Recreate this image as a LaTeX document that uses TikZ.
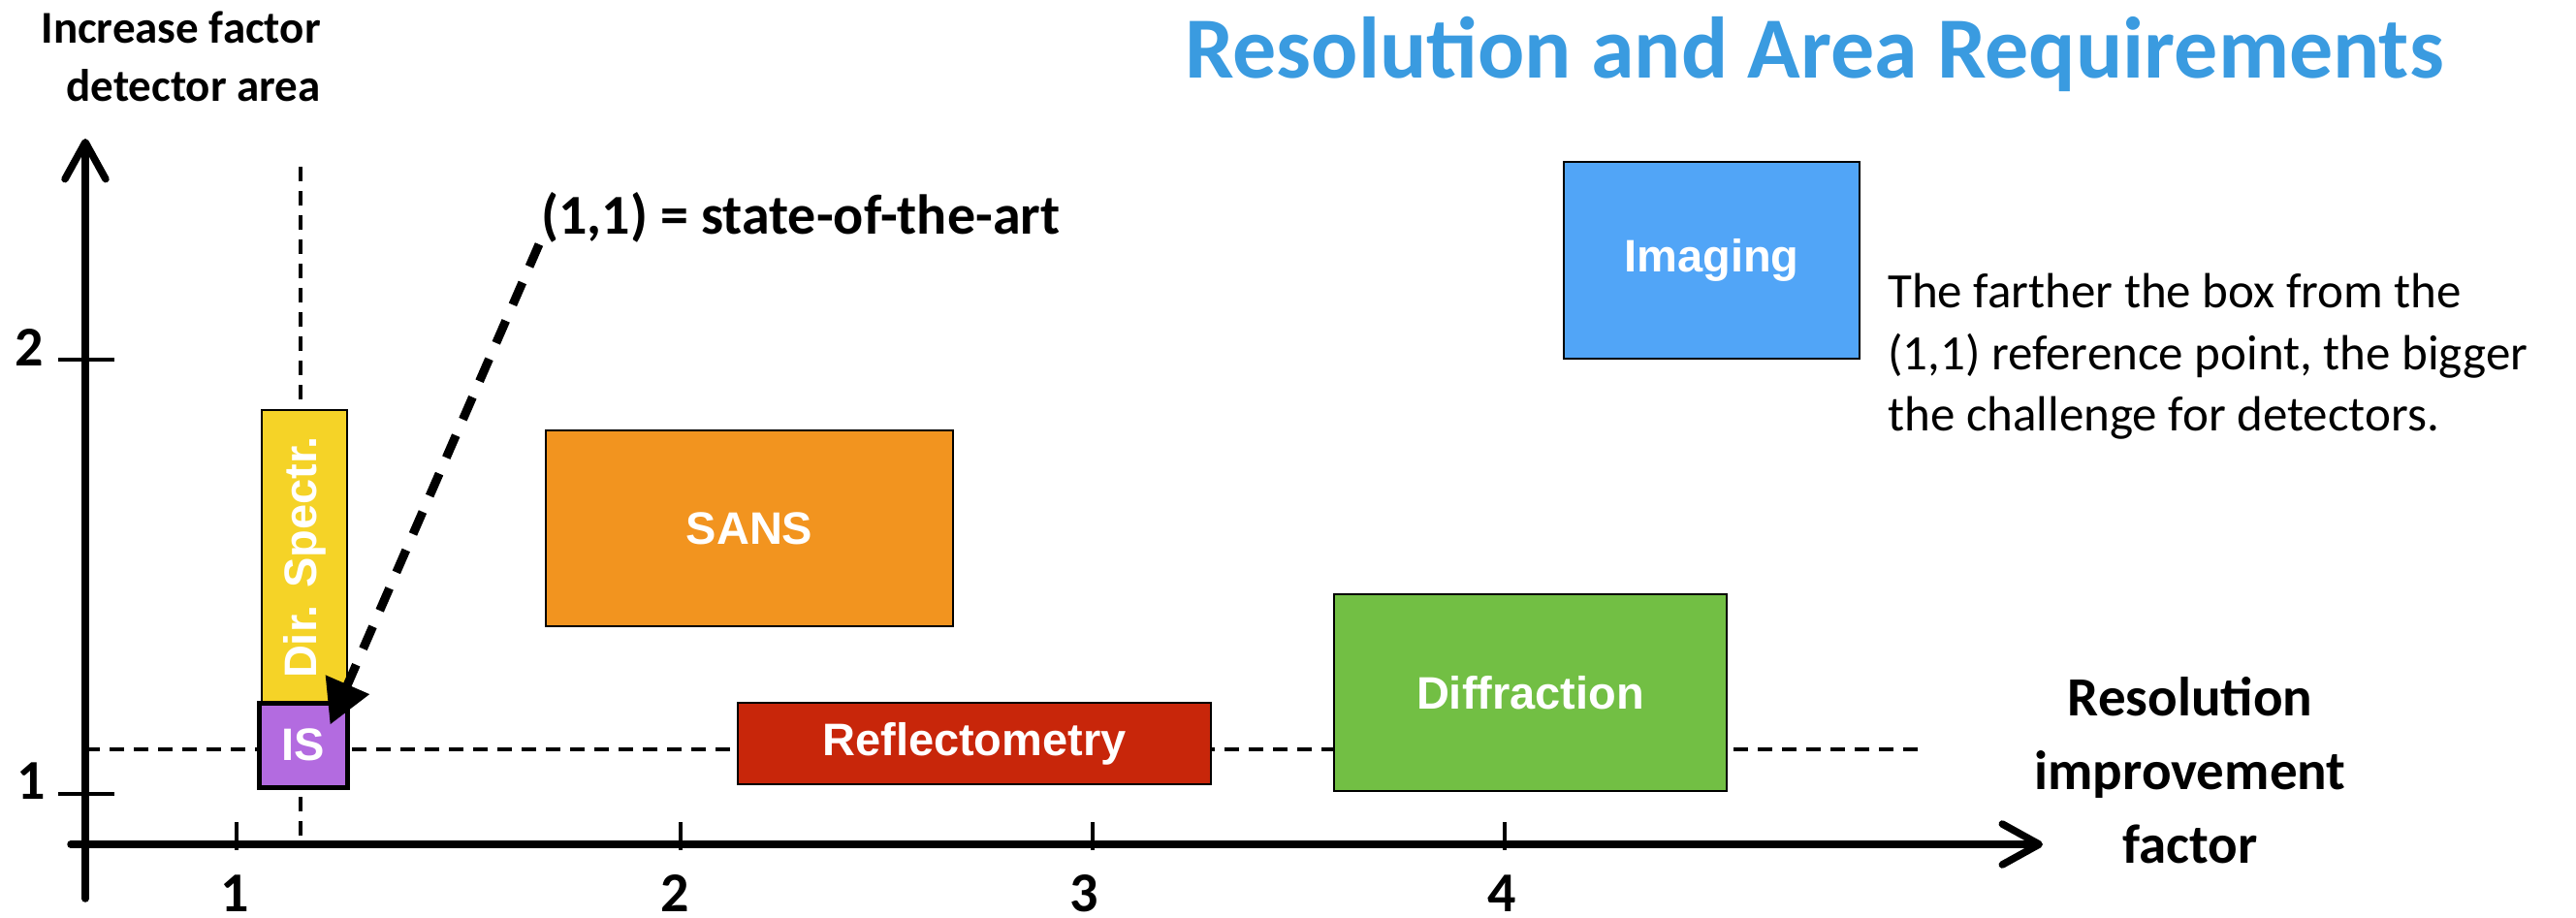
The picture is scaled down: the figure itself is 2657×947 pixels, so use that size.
\documentclass[tikz,border=0pt]{standalone}
\usepackage{fontspec}
\setmainfont{Carlito}
\newfontfamily\boxfont{Liberation Sans}
\usetikzlibrary{arrows.meta,calc}
\definecolor{ctitle}{HTML}{3A9BE0}
\definecolor{cyellow}{HTML}{F5D327}
\definecolor{cpurple}{HTML}{B36BE0}
\definecolor{corange}{HTML}{F2941F}
\definecolor{cred}{HTML}{C8260A}
\definecolor{cgreen}{HTML}{72BF44}
\definecolor{cblue}{HTML}{51A5F7}
\begin{document}
\begin{tikzpicture}[x=1pt,y=-1pt,
  box/.style={draw=black,line width=2pt,inner sep=0pt,text=white,
    font=\boxfont\bfseries\fontsize{47}{56}\selectfont},
  axis/.style={line width=7.5pt,line cap=round,-{Straight Barb[length=38pt,width=42pt,round]}},
  tick/.style={line width=4pt},
  guide/.style={line width=4pt,dash pattern=on 15pt off 10pt},
  bigdash/.style={line width=9pt,dash pattern=on 25pt off 18pt,-{Triangle[length=45pt,width=47pt]}},
  ticklbl/.style={font=\bfseries\fontsize{58}{70}\selectfont,inner sep=0pt,anchor=base},
]
\useasboundingbox (0,0) rectangle (2657,947);

% title
\node[font=\bfseries\fontsize{90}{100}\selectfont,text=ctitle,inner sep=0pt,anchor=base] (title) at (1871.5,81) {Resolution and Area Requirements};

% guide dashed lines
\coordinate (hg1) at (88,773);
\coordinate (hg2) at (1983,773);
\coordinate (vg1) at (310,172);
\coordinate (vg2) at (310,871);
\draw[guide] (hg1) -- (hg2);
\draw[guide] (vg1) -- (vg2);

% axes
\coordinate (xa0) at (73,871);
\coordinate (xa1) at (2107,871);
\coordinate (ya0) at (88,927);
\coordinate (ya1) at (88,143);
\draw[axis] (xa0) -- (xa1);
\draw[axis] (ya0) -- (ya1);

% ticks
\foreach \xx in {244,702,1127,1552} \draw[tick] (\xx,848) -- (\xx,877);
\foreach \yy in {371,819} \draw[tick] (60,\yy) -- (118,\yy);

% tick labels
\node[ticklbl] (tx1) at (242,940) {1};
\node[ticklbl] (tx2) at (696,940) {2};
\node[ticklbl] (tx3) at (1118,940) {3};
\node[ticklbl] (tx4) at (1549,940) {4};
\node[ticklbl] (ty1) at (32,824) {1};
\node[ticklbl] (ty2) at (30,377) {2};

% axis labels
\node[font=\bfseries\fontsize{47}{60}\selectfont,align=right,inner sep=0pt,anchor=north east] (ylab) at (331,12) {Increase factor\\detector area};
\node[font=\bfseries\fontsize{57}{76}\selectfont,align=center,inner sep=0pt,anchor=north] (xlab) at (2259,698) {Resolution\\improvement\\factor};

% boxes
\node[box,fill=cyellow,rotate=90,minimum width=304pt,minimum height=88pt] (ds) at (314,575) {Dir. Spectr.};
\node[box,fill=cpurple,line width=5pt,minimum width=91pt,minimum height=87pt] (IS) at (312.5,768.5) {IS};
\node[box,fill=corange,minimum width=420pt,minimum height=202pt] (sans) at (773,545) {SANS};
\node[box,fill=cred,minimum width=488pt,minimum height=84pt] (refl) at (1005,767) {Reflectometry};
\node[box,fill=cgreen,minimum width=405pt,minimum height=203pt] (diff) at (1578.5,714.5) {Diffraction};
\node[box,fill=cblue,minimum width=305pt,minimum height=203pt] (img) at (1765.5,268.5) {Imaging};

% state of the art label + arrow
\node[font=\bfseries\fontsize{58}{70}\selectfont,inner sep=0pt,anchor=base west] (sota) at (558,241) {(1,1) = state-of-the-art};
\coordinate (arrstart) at ($(sota.base west)+(-2,11)$);
\coordinate (arrend) at ($(IS.north east)+(-20,25)$);
\draw[bigdash] (arrstart) -- (arrend);

% note
\node[font=\fontsize{51}{63.5}\selectfont,align=left,inner sep=0pt,anchor=north west] (note) at (1947,282) {The farther the box from the\\(1,1) reference point, the bigger\\the challenge for detectors.};
\end{tikzpicture}
\end{document}
